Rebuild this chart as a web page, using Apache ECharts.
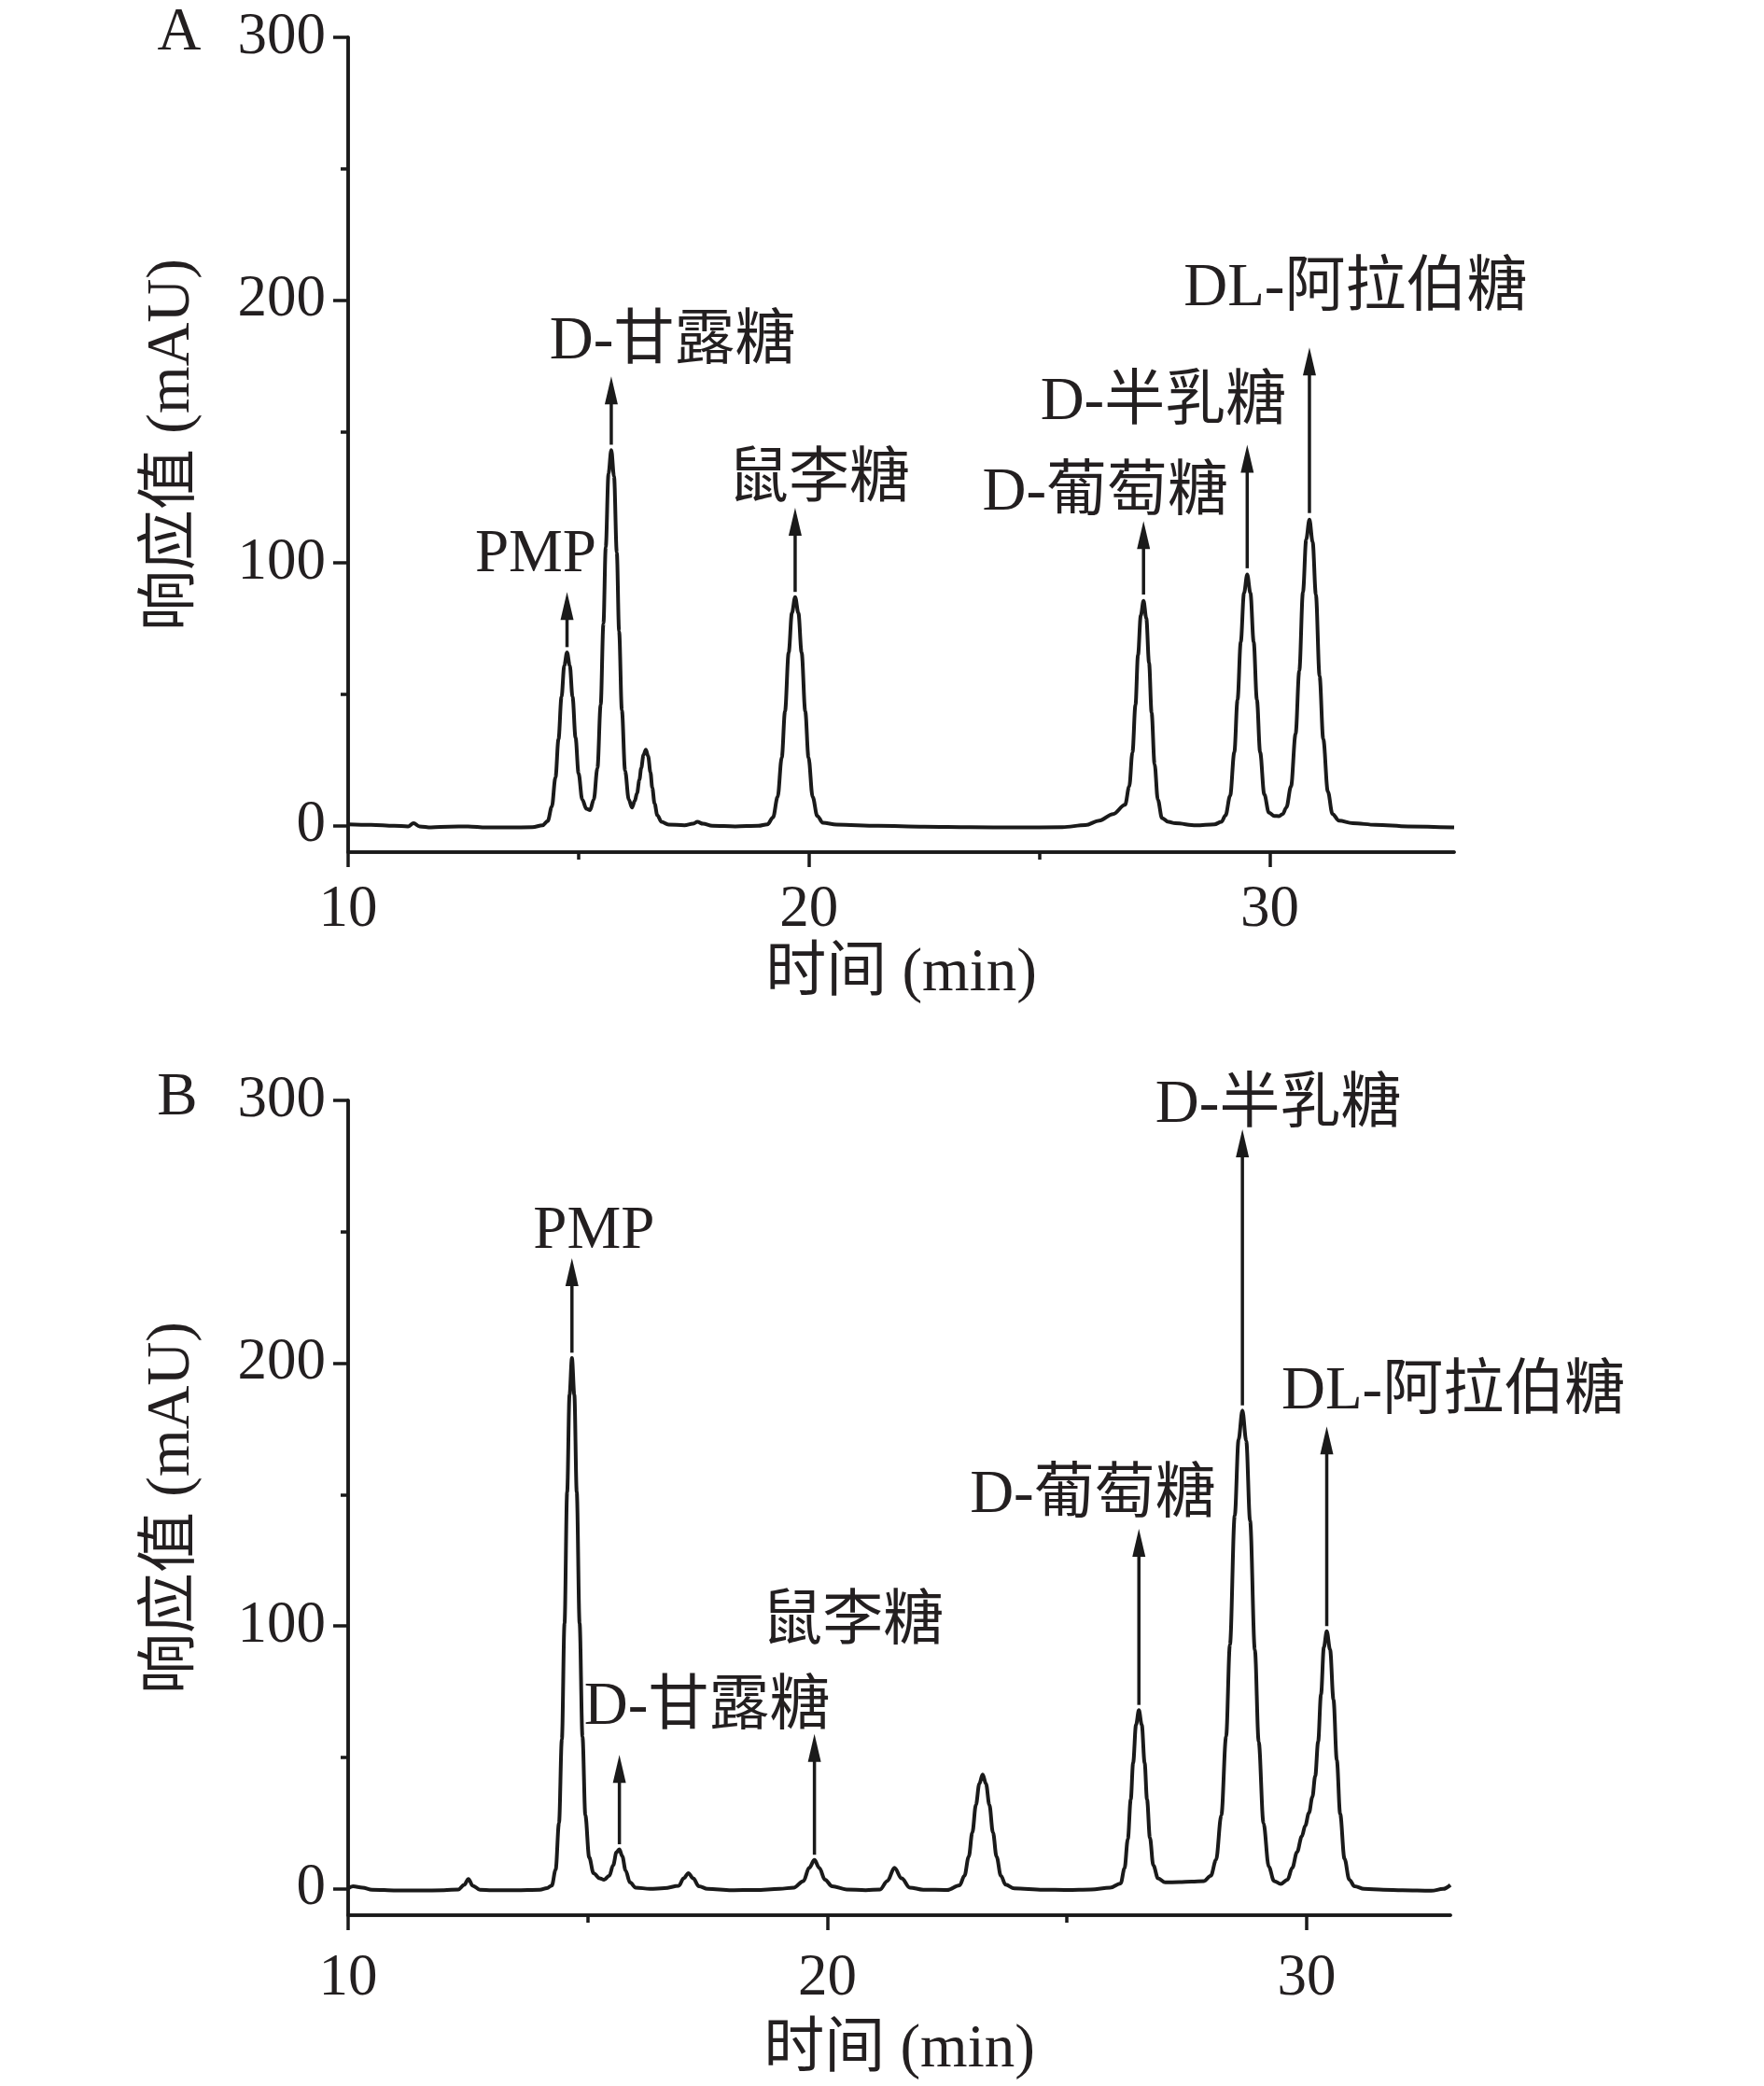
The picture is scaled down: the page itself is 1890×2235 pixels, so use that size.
<!DOCTYPE html>
<html><head><meta charset="utf-8">
<script src="https://cdn.jsdelivr.net/npm/echarts@6/dist/echarts.min.js"></script>
<style>html,body{margin:0;padding:0;background:#fff}#c{width:1890px;height:2235px}</style>
</head><body><div id="c"></div>
<script>
// ---------- Panel A data (time in min, response in mAU) ----------
const timeA = [10.0,10.5,11.0,11.3,11.42,11.55,11.8,12.2,12.6,13.0,13.5,14.0,14.22,
  14.33,14.42,14.50,14.565,14.63,14.69,14.75,14.81,14.87,14.935,15.00,15.08,15.17,15.25,
  15.33,15.41,15.48,15.54,15.59,15.65,15.71,15.77,15.83,15.88,15.94,16.01,16.09,16.16,
  16.22,16.27,16.32,16.36,16.41,16.46,16.51,16.56,16.60,16.65,16.71,16.80,16.95,17.3,17.48,17.58,17.7,17.9,18.4,18.9,
  19.10,19.22,19.32,19.41,19.48,19.56,19.63,19.70,19.77,19.84,19.92,19.99,20.08,20.18,20.30,20.6,21.5,22.5,23.5,24.5,25.5,
  26.0,26.3,26.6,26.86,26.95,27.02,27.085,27.14,27.20,27.26,27.32,27.38,27.435,27.50,27.57,27.66,27.8,27.95,28.4,28.8,
  28.95,29.04,29.14,29.23,29.30,29.37,29.44,29.51,29.58,29.65,29.72,29.79,29.88,29.98,30.1,30.2,
  30.28,30.36,30.46,30.56,30.64,30.72,30.79,30.86,30.93,31.00,31.08,31.16,31.26,31.36,31.5,31.8,32.3,33.0,34.0];
const respA = [0.6,0.4,0.0,-0.2,1.0,-0.2,-0.6,-0.3,-0.2,-0.6,-0.6,-0.5,0.2,
  1.8,7.3,18.5,33,49,61,66,61,49,33.5,20,10,6.5,6,
  10,22,46,77,106,134,143,133,104,74,44,21,10,7,
  9.5,12.5,17.5,22,27,29,26.5,20.4,14.5,8.5,4,1.5,0.5,0.2,0.8,1.5,0.8,0.0,-0.2,0.0,
  0.6,3.2,11,26,43.5,66,81,87,81,66,43.5,26,11,3.8,1.2,0.5,0.0,-0.3,-0.5,-0.6,-0.5,
  0.3,2,4.5,8,15,28,46,65,80,85.6,79,62,43,23.5,10,3,1.5,1.0,0.2,0.6,
  1.5,4,11.5,28,48,70,88.5,95.6,88.5,70,48,28,12,5,3.8,3.7,
  4.5,7,15,35,59,89,109,116.5,108,88,57,33,13,4.5,2,1.0,0.4,-0.2,-0.6];

// ---------- Panel B data ----------
const timeB = [10.0,10.1,10.3,10.5,11.0,11.5,12.0,12.3,12.42,12.51,12.6,12.75,13.0,13.5,14.0,14.15,
  14.25,14.33,14.40,14.46,14.515,14.57,14.62,14.67,14.72,14.77,14.83,14.89,14.95,15.03,15.12,15.25,15.34,
  15.45,15.53,15.60,15.66,15.72,15.79,15.88,16.0,16.3,16.6,
  16.9,17.0,17.1,17.2,17.32,17.5,18.0,18.5,19.0,19.3,
  19.5,19.62,19.73,19.83,19.95,20.1,20.4,20.8,21.1,
  21.25,21.4,21.55,21.72,22.0,22.5,
  22.76,22.86,22.95,23.025,23.10,23.17,23.24,23.31,23.38,23.455,23.53,23.62,23.72,23.9,24.5,25.0,25.5,25.9,
  26.12,26.20,26.27,26.33,26.38,26.44,26.50,26.56,26.62,26.67,26.73,26.80,26.90,27.05,27.34,27.6,27.86,
  28.00,28.11,28.22,28.32,28.40,28.50,28.58,28.66,28.74,28.82,28.92,29.00,29.10,29.21,29.32,29.46,
  29.60,29.70,29.80,29.90,29.97,30.05,30.12,30.18,30.24,30.30,30.36,30.42,30.49,30.56,30.63,30.70,30.79,30.89,31.0,31.2,31.6,32.0,32.6,32.85,33.0];
const respB = [0.2,1.0,0.5,-0.3,-0.6,-0.6,-0.5,-0.2,1.5,3.8,1.2,-0.3,-0.5,-0.5,-0.3,0.3,
  1.3,7.3,25,57,101,151,188,202,188,151,101,58,28,12,6,4,3.5,
  5,9,14,15,12.5,7,2.5,0.5,0,0.3,
  1.2,4,6,4,1,0,-0.5,-0.4,0,0.5,
  3,8,11,8,3.5,1,-0.2,-0.5,-0.2,
  3,8,4,0.5,-0.3,-0.4,
  1.4,5,12.3,21.5,32,40,43.5,40,32,21.5,12.3,5,1.6,0.2,-0.3,-0.4,-0.2,0.5,
  2.1,7.8,19,34,48,62.4,68,62.4,48,34,19.5,9,4,2.5,2.6,2.8,3,
  5,11,28,58,93,142,171,182,170.5,140,91,56,25,8.5,3,1.9,
  3.5,8,14,20,24,29,35,43,56,74,92,98,91,72,49,28.5,11.5,3.5,1,0,-0.3,-0.5,-0.7,0,1.5];

// ---------- Axis ticks ----------
const yTicks = [0, 100, 200, 300];
const yMinorTicks = [50, 150, 250];
const xTicks = [10, 20, 30];
const xMinorTicks = [15, 25];

// ---------- Peak annotations ----------
const peakNames = ['PMP', 'D-甘露糖', '鼠李糖', 'D-葡萄糖', 'D-半乳糖', 'DL-阿拉伯糖'];
// arrows: x of peak, arrow start value, arrow tip value
const arrowXA = [14.75, 15.71, 19.70, 27.26, 29.51, 30.86];
const arrowFromA = [68, 145, 89, 88, 98, 119];
const arrowToA = [89, 171, 121, 116, 145, 182];
const arrowXB = [14.67, 15.66, 19.73, 26.50, 28.66, 30.42];
const arrowFromB = [204, 17, 13, 70, 184, 100];
const arrowToB = [240, 51, 59, 137, 289, 176];
// label anchor (centre) in data units
const labelXA = [14.07, 17.04, 20.22, 26.43, 27.69, 31.86];
const labelYA = [103, 184, 131.5, 126.5, 161, 204];
const labelXB = [15.13, 17.49, 20.53, 25.54, 29.41, 33.06];
const labelYB = [250, 69, 101, 149.5, 298, 189];

const FONT = "'Liberation Serif','Times New Roman','Noto Sans CJK SC',serif";
const INK = '#1a1a1a';
const TXT = '#231f20';

function zip(a, b) { return a.map((v, i) => [v, b[i]]); }
function zip3(a, b, c) { return a.map((v, i) => [v, b[i], c[i]]); }

function arrowRender(params, api) {
  const p0 = api.coord([api.value(0), api.value(1)]);
  const p1 = api.coord([api.value(0), api.value(2)]);
  const hl = 30, hw = 7;
  return {
    type: 'group',
    children: [
      { type: 'line', shape: { x1: p0[0], y1: p0[1], x2: p1[0], y2: p1[1] + hl - 2 },
        style: { stroke: INK, lineWidth: 3.5 } },
      { type: 'polygon', shape: { points: [[p1[0], p1[1]], [p1[0] - hw, p1[1] + hl], [p1[0] + hw, p1[1] + hl]] },
        style: { fill: INK } }
    ]
  };
}
function labelRender(params, api) {
  const p = api.coord([api.value(0), api.value(1)]);
  return {
    type: 'text', x: p[0], y: p[1],
    style: { text: peakNames[params.dataIndex], fontSize: 65, fontFamily: FONT, fill: TXT,
      align: 'center', verticalAlign: 'middle' }
  };
}

const axisLineStyle = { color: INK, width: 3.5 };
function mainX(grid, max, labelMargin, nameGap) {
  return {
    type: 'value', gridIndex: grid, min: 10, max: max, position: 'bottom',
    axisLine: { show: true, onZero: false, lineStyle: axisLineStyle },
    axisTick: { show: true, customValues: xTicks, length: 16, lineStyle: axisLineStyle },
    axisLabel: { show: true, customValues: xTicks, fontSize: 63, fontFamily: FONT, color: TXT, margin: labelMargin },
    splitLine: { show: false },
    name: '时间 (min)', nameLocation: 'middle', nameGap: nameGap,
    nameTextStyle: { fontSize: 65, fontFamily: FONT, color: TXT }
  };
}
function minorX(grid, max) {
  return {
    type: 'value', gridIndex: grid, min: 10, max: max, position: 'bottom', offset: 0,
    axisLine: { show: true, onZero: false, lineStyle: axisLineStyle },
    axisTick: { show: true, customValues: xMinorTicks, length: 8, lineStyle: axisLineStyle },
    axisLabel: { show: false }, splitLine: { show: false }
  };
}
function mainY(grid) {
  return {
    type: 'value', gridIndex: grid, min: -10, max: 300, position: 'left',
    axisLine: { show: true, onZero: false, lineStyle: axisLineStyle },
    axisTick: { show: true, customValues: yTicks, length: 16, lineStyle: axisLineStyle },
    axisLabel: { show: true, customValues: yTicks, fontSize: 63, fontFamily: FONT, color: TXT, margin: 24 },
    splitLine: { show: false },
    name: '响应值 (mAU)', nameLocation: 'middle', nameGap: 156, nameRotate: 90,
    nameTextStyle: { fontSize: 65, fontFamily: FONT, color: TXT }
  };
}
function minorY(grid) {
  return {
    type: 'value', gridIndex: grid, min: -10, max: 300, position: 'left', offset: 0,
    axisLine: { show: true, onZero: false, lineStyle: axisLineStyle },
    axisTick: { show: true, customValues: yMinorTicks, length: 8, lineStyle: axisLineStyle },
    axisLabel: { show: false }, splitLine: { show: false }
  };
}

const lineSeries = (xi, data) => ({
  type: 'line', xAxisIndex: xi, yAxisIndex: xi, data: data, showSymbol: false, smooth: 0.35,
  smoothMonotone: 'x', lineStyle: { color: INK, width: 4 }, silent: true, z: 3
});

const option = {
  animation: false,
  backgroundColor: '#fff',
  grid: [
    { left: 373, top: 40, width: 1185, height: 873, containLabel: false },
    { left: 373, top: 1179, width: 1181, height: 873, containLabel: false }
  ],
  xAxis: [mainX(0, 34, 31, 98), minorX(0, 34), mainX(1, 33, 37, 112), minorX(1, 33)],
  yAxis: [mainY(0), minorY(0), mainY(1), minorY(1)],
  series: [
    lineSeries(0, zip(timeA, respA)),
    lineSeries(2, zip(timeB, respB)),
    { type: 'custom', xAxisIndex: 0, yAxisIndex: 0, data: zip3(arrowXA, arrowFromA, arrowToA),
      encode: { x: 0, y: [1, 2] }, renderItem: arrowRender, silent: true, z: 4 },
    { type: 'custom', xAxisIndex: 2, yAxisIndex: 2, data: zip3(arrowXB, arrowFromB, arrowToB),
      encode: { x: 0, y: [1, 2] }, renderItem: arrowRender, silent: true, z: 4 },
    { type: 'custom', xAxisIndex: 0, yAxisIndex: 0, data: zip(labelXA, labelYA),
      encode: { x: 0, y: 1 }, renderItem: labelRender, silent: true, z: 5, clip: false },
    { type: 'custom', xAxisIndex: 2, yAxisIndex: 2, data: zip(labelXB, labelYB),
      encode: { x: 0, y: 1 }, renderItem: labelRender, silent: true, z: 5, clip: false }
  ],
  graphic: [
    { type: 'text', x: 192, y: 36, style: { text: 'A', fontSize: 65, fontFamily: FONT, fill: TXT, align: 'center', verticalAlign: 'middle' } },
    { type: 'text', x: 190, y: 1177, style: { text: 'B', fontSize: 65, fontFamily: FONT, fill: TXT, align: 'center', verticalAlign: 'middle' } }
  ]
};

const chart = echarts.init(document.getElementById('c'), null, { renderer: 'canvas', width: 1890, height: 2235 });
chart.setOption(option);
</script>
</body></html>
